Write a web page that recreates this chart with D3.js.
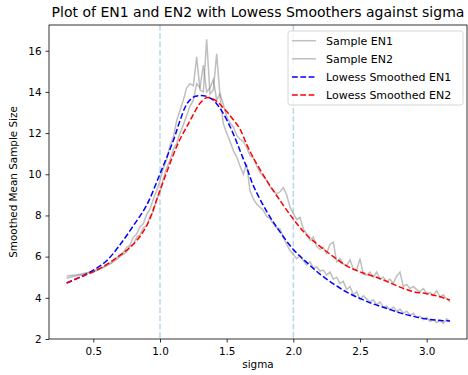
<!DOCTYPE html>
<html>
<head>
<meta charset="utf-8">
<script src="https://cdn.jsdelivr.net/npm/d3@7"></script>
<style>
  body { margin: 0; background: #fff; }
  text { font-family: "DejaVu Sans", sans-serif; fill: #000; }
</style>
</head>
<body>
<div id="chart"></div>
<script>
// sample grid, sigma from 0.3 to 3.175 in 0.025 steps
const sigma = d3.range(116).map(i => +(0.3 + i * 0.025).toFixed(3));

const sampleEN1 = [
  5.05, 5.08, 5.10, 5.12, 5.15, 5.18, 5.22, 5.26, 5.30, 5.36,
  5.42, 5.48, 5.56, 5.64, 5.74, 5.86, 6.00, 6.20, 6.45, 6.55,
  6.95, 7.10, 7.45, 7.60, 8.05, 8.30, 8.80, 9.20, 9.70, 10.30,
  10.70, 11.40, 11.80, 12.60, 13.10, 13.60, 14.20, 14.40, 14.30, 15.70,
  14.10, 14.00, 16.55, 13.90, 14.10, 15.85, 13.80, 12.45, 12.00, 11.60,
  11.15, 10.85, 10.40, 10.00, 10.50, 9.20, 8.80, 8.55, 8.40, 8.25,
  7.95, 7.85, 7.60, 7.40, 7.35, 6.95, 6.60, 6.30, 6.10, 5.90,
  6.05, 5.80, 5.60, 5.75, 5.45, 5.50, 5.30, 5.35, 5.10, 5.25,
  4.90, 5.00, 4.70, 4.80, 4.40, 4.55, 4.15, 4.30, 3.90, 4.10,
  3.95, 3.80, 3.90, 3.65, 3.80, 3.55, 3.60, 3.40, 3.55, 3.35,
  3.45, 3.25, 3.35, 3.15, 3.25, 3.05, 3.10, 2.95, 3.05, 2.85,
  2.95, 2.80, 2.92, 2.76, 2.98, 2.85
];

const sampleEN2 = [
  4.95, 5.00, 5.03, 5.07, 5.10, 5.14, 5.18, 5.22, 5.26, 5.32,
  5.40, 5.48, 5.56, 5.68, 5.80, 5.95, 6.05, 6.10, 6.25, 6.50,
  6.60, 6.95, 7.05, 7.40, 7.50, 7.95, 8.20, 8.80, 9.10, 9.80,
  10.30, 10.70, 11.20, 11.50, 12.00, 12.40, 12.85, 13.30, 13.60, 14.40,
  14.20, 15.30, 14.00, 14.20, 14.60, 13.60, 13.90, 13.40, 12.80, 12.50,
  12.30, 11.90, 11.70, 11.60, 11.30, 10.90, 10.80, 10.40, 10.10, 9.90,
  9.70, 9.40, 9.20, 9.05, 9.15, 9.35, 9.00, 8.40, 8.10, 7.80,
  7.90, 7.35, 7.10, 6.80, 6.95, 6.50, 6.35, 6.45, 6.15, 6.60,
  6.70, 5.75, 5.90, 5.65, 5.55, 5.85, 5.40, 5.35, 5.90, 5.15,
  5.10, 5.25, 5.00, 5.25, 4.90, 5.00, 4.80, 4.90, 4.70, 5.05,
  5.25, 4.55, 4.65, 4.45, 4.55, 4.40, 4.30, 4.45, 4.20, 4.25,
  4.10, 4.35, 4.05, 4.15, 3.95, 3.80
];

// lowess curves read at coarser knots
const lowessSigma = [
  0.3, 0.4, 0.5, 0.6, 0.7, 0.8, 0.9, 1.0, 1.1, 1.15, 1.2, 1.25, 1.3, 1.35,
  1.4, 1.45, 1.5, 1.55, 1.6, 1.65, 1.7, 1.8, 1.9, 2.0, 2.1, 2.2, 2.3, 2.4,
  2.5, 2.6, 2.7, 2.8, 2.9, 3.0, 3.1, 3.175
];
const lowessEN1 = [
  4.72, 5.00, 5.34, 5.80, 6.58, 7.50, 8.50, 10.02, 11.64, 12.60, 13.40, 13.75, 13.82, 13.78,
  13.60, 13.20, 12.65, 11.96, 11.15, 10.34, 9.45, 8.20, 7.20, 6.35, 5.72, 5.15, 4.68, 4.28,
  3.97, 3.70, 3.49, 3.27, 3.10, 2.97, 2.90, 2.88
];
const lowessEN2 = [
  4.72, 5.00, 5.26, 5.62, 6.07, 6.60, 7.50, 9.22, 10.95, 11.70, 12.30, 12.90, 13.45, 13.72,
  13.65, 13.40, 13.05, 12.65, 12.20, 11.45, 10.80, 9.70, 8.73, 7.82, 7.05, 6.50, 6.00, 5.55,
  5.26, 5.05, 4.80, 4.52, 4.30, 4.20, 4.05, 3.89
];

const vlines = [1.0, 2.0];
const xTicks = [0.5, 1.0, 1.5, 2.0, 2.5, 3.0];
const yTicks = [2, 4, 6, 8, 10, 12, 14, 16];

const width = 468, height = 375;
const plotLeft = 49, plotRight = 467, plotTop = 25, plotBottom = 339;

const svg = d3.select("#chart").append("svg")
  .attr("width", width)
  .attr("height", height);

const x = d3.scaleLinear().domain([0.1675, 3.3025]).range([plotLeft, plotRight]);
const y = d3.scaleLinear().domain([2.0, 17.25]).range([plotBottom, plotTop]);

// reference lines at sigma = 1 and 2
svg.selectAll(".vline")
  .data(vlines)
  .enter()
  .append("line")
  .attr("x1", d => x(d)).attr("x2", d => x(d))
  .attr("y1", plotTop).attr("y2", plotBottom)
  .attr("stroke", "#1f77b4")
  .attr("stroke-opacity", 0.3)
  .attr("stroke-width", 1.5)
  .attr("stroke-dasharray", "5.8,2.5");

const line = d3.line()
  .x(d => x(d[0]))
  .y(d => y(d[1]));

const smooth = d3.line()
  .x(d => x(d[0]))
  .y(d => y(d[1]))
  .curve(d3.curveCatmullRom);

const series = [
  { values: sampleEN1, xs: sigma, color: "#808080", opacity: 0.5, dash: null, gen: line },
  { values: sampleEN2, xs: sigma, color: "#808080", opacity: 0.5, dash: null, gen: line },
  { values: lowessEN1, xs: lowessSigma, color: "blue", opacity: 1, dash: "5.8,2.5", gen: smooth },
  { values: lowessEN2, xs: lowessSigma, color: "red", opacity: 1, dash: "5.8,2.5", gen: smooth }
];

series.forEach(s => {
  svg.append("path")
    .datum(s.xs.map((v, i) => [v, s.values[i]]))
    .attr("d", s.gen)
    .attr("fill", "none")
    .attr("stroke", s.color)
    .attr("stroke-opacity", s.opacity)
    .attr("stroke-width", 1.5)
    .attr("stroke-dasharray", s.dash);
});

// frame
svg.append("rect")
  .attr("x", plotLeft).attr("y", plotTop)
  .attr("width", plotRight - plotLeft).attr("height", plotBottom - plotTop)
  .attr("fill", "none")
  .attr("stroke", "#000")
  .attr("stroke-width", 0.8);

const xAxis = svg.append("g")
  .attr("transform", "translate(0," + plotBottom + ")")
  .call(d3.axisBottom(x).tickValues(xTicks).tickFormat(d3.format(".1f")).tickSize(3.5).tickPadding(5));
const yAxis = svg.append("g")
  .attr("transform", "translate(" + plotLeft + ",0)")
  .call(d3.axisLeft(y).tickValues(yTicks).tickFormat(d3.format("d")).tickSize(3.5).tickPadding(4));

[xAxis, yAxis].forEach(a => {
  a.select(".domain").remove();
  a.selectAll(".tick line").attr("stroke", "#000").attr("stroke-width", 0.8);
  a.selectAll(".tick text")
    .style("font-family", "DejaVu Sans, sans-serif")
    .style("font-size", "10.4px")
    .attr("fill", "#222");
});

// labels
svg.append("text")
  .attr("x", (plotLeft + plotRight) / 2)
  .attr("y", 17)
  .attr("text-anchor", "middle")
  .style("font-size", "14px")
  .text("Plot of EN1 and EN2 with Lowess Smoothers against sigma");

svg.append("text")
  .attr("x", (plotLeft + plotRight) / 2)
  .attr("y", 368)
  .attr("text-anchor", "middle")
  .style("font-size", "10.4px")
  .text("sigma");

svg.append("text")
  .attr("transform", "translate(17," + (plotTop + plotBottom) / 2 + ") rotate(-90)")
  .attr("text-anchor", "middle")
  .style("font-size", "10.4px")
  .text("Smoothed Mean Sample Size");

// legend
const legendItems = [
  { label: "Sample EN1", color: "#808080", opacity: 0.5, dash: null },
  { label: "Sample EN2", color: "#808080", opacity: 0.5, dash: null },
  { label: "Lowess Smoothed EN1", color: "blue", opacity: 1, dash: "5.8,2.5" },
  { label: "Lowess Smoothed EN2", color: "red", opacity: 1, dash: "5.8,2.5" }
];

const legend = svg.append("g").attr("transform", "translate(288,31)");
legend.append("rect")
  .attr("x", 0).attr("y", 0)
  .attr("width", 175).attr("height", 74)
  .attr("rx", 2.5)
  .attr("fill", "#fff")
  .attr("fill-opacity", 0.8)
  .attr("stroke", "#cccccc")
  .attr("stroke-width", 0.8);

const rows = legend.selectAll(".row")
  .data(legendItems)
  .enter()
  .append("g")
  .attr("transform", (d, i) => "translate(0," + (9.7 + i * 18.1) + ")");

rows.append("line")
  .attr("x1", 4).attr("x2", 28)
  .attr("stroke", d => d.color)
  .attr("stroke-opacity", d => d.opacity)
  .attr("stroke-width", 1.5)
  .attr("stroke-dasharray", d => d.dash);

rows.append("text")
  .attr("x", 38)
  .attr("dy", "0.36em")
  .style("font-size", "11px")
  .text(d => d.label);
</script>
</body>
</html>
